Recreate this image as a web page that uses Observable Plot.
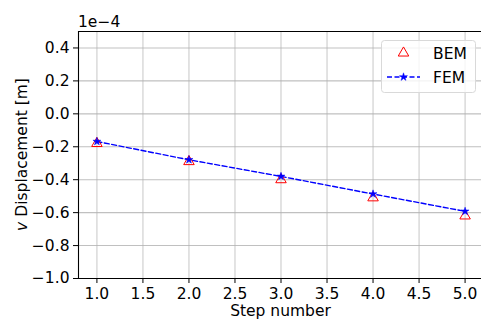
<!DOCTYPE html>
<html>
<head>
<meta charset="utf-8">
<script src="https://cdn.jsdelivr.net/npm/d3@7"></script>
<script src="https://cdn.jsdelivr.net/npm/@observablehq/plot@0.6"></script>
<style>
  html, body { margin: 0; padding: 0; background: #fff; }
  svg { display: block; }
</style>
</head>
<body>
<div id="chart"></div>
<script>
// Data (displacement values in units of 1e-4 m)
const steps = [1, 2, 3, 4, 5];
const bemValues = [-0.18, -0.29, -0.40, -0.51, -0.62];
const femValues = [-0.168, -0.279, -0.38, -0.487, -0.592];
const xTicks = [1.0, 1.5, 2.0, 2.5, 3.0, 3.5, 4.0, 4.5, 5.0];
const yTicks = [-1.0, -0.8, -0.6, -0.4, -0.2, 0.0, 0.2, 0.4];
const seriesNames = ["BEM", "FEM"];
const xLabel = "Step number";
const yLabel = "Displacement [m]";
const offsetLabel = "1e\u22124";

const bem = steps.map((s, i) => ({step: s, value: bemValues[i]}));
const fem = steps.map((s, i) => ({step: s, value: femValues[i]}));
const fmt = d => d.toFixed(1).replace("-", "\u2212");

const W = 481, H = 322;
const L = 78, T = 31, B = 278, R = 483;
const FS = 15.5;

const chart = Plot.plot({
  width: W,
  height: H,
  marginLeft: L,
  marginTop: T,
  marginBottom: H - B,
  marginRight: 0,
  style: {fontFamily: "DejaVu Sans", fontSize: FS + "px", background: "#fff", overflow: "hidden"},
  x: {domain: [0.8, 5.2], range: [L, R]},
  y: {domain: [-1.0, 0.5], range: [B, T]},
  marks: [
    Plot.gridX(xTicks, {stroke: "#b0b0b0", strokeOpacity: 0.6, strokeWidth: 1.2}),
    Plot.gridY(yTicks, {stroke: "#b0b0b0", strokeOpacity: 0.8, strokeWidth: 1.1}),
    Plot.axisX(xTicks, {tickFormat: fmt, tickSize: 5, tickPadding: 4, fontSize: FS, fill: "#000", stroke: "#000", label: null}),
    Plot.axisY(yTicks, {tickFormat: fmt, tickSize: 5, tickPadding: 4, fontSize: FS, fill: "#000", stroke: "#000", label: null}),
    Plot.ruleX([0.8, 5.2], {stroke: "#000", strokeWidth: 1.1}),
    Plot.ruleY([-1.0, 0.5], {stroke: "#000", strokeWidth: 1.1}),
    Plot.line(fem, {x: "step", y: "value", stroke: "#0000ff", strokeWidth: 1.4, strokeDasharray: "5,2.5"}),
    Plot.dot(bem, {x: "step", y: "value", symbol: "triangle", r: 3.9, stroke: "#ff0000", strokeWidth: 1, fill: "none"}),
    Plot.dot(fem, {x: "step", y: "value", symbol: "star", r: 2.5, fill: "#0000ff", stroke: "#0000ff", strokeWidth: 0.5})
  ]
});

document.getElementById("chart").appendChild(chart);

const svg = d3.select(chart);
const font = "DejaVu Sans";
const txt = (x, y, s, anchor) => svg.append("text").attr("x", x).attr("y", y)
  .attr("text-anchor", anchor).attr("font-family", font).attr("font-size", FS)
  .attr("fill", "#000").text(s);

// offset text
txt(L, 27, offsetLabel, "start");
// x label
txt((L + R) / 2, 316, xLabel, "middle");

// y label
const yl = svg.append("text").attr("transform", `translate(27,${(T + B) / 2}) rotate(-90)`)
  .attr("text-anchor", "middle").attr("font-family", font).attr("font-size", FS).attr("fill", "#000");
yl.append("tspan").attr("font-style", "italic").text("v");
yl.append("tspan").text(" " + yLabel);

// legend
const lg = svg.append("g");
lg.append("rect").attr("x", 381.5).attr("y", 40.5).attr("width", 94).attr("height", 52).attr("rx", 3)
  .attr("fill", "#fff").attr("fill-opacity", 0.8).attr("stroke", "#d9d9d9").attr("stroke-width", 1);
const tri = d3.symbol(d3.symbolTriangle, Math.PI * 3.9 * 3.9)();
lg.append("path").attr("d", tri).attr("transform", "translate(403.5,53)")
  .attr("fill", "none").attr("stroke", "#ff0000").attr("stroke-width", 1);
lg.append("text").attr("x", 433).attr("y", 59).attr("text-anchor", "start").attr("font-family", font)
  .attr("font-size", FS).attr("fill", "#000").text(seriesNames[0]);
lg.append("line").attr("x1", 387).attr("x2", 420).attr("y1", 77).attr("y2", 77)
  .attr("stroke", "#0000ff").attr("stroke-width", 1.4).attr("stroke-dasharray", "5,2.5");
const star = d3.symbol(d3.symbolStar, Math.PI * 2.5 * 2.5)();
lg.append("path").attr("d", star).attr("transform", "translate(403.5,77)")
  .attr("fill", "#0000ff").attr("stroke", "#0000ff").attr("stroke-width", 0.5);
lg.append("text").attr("x", 433).attr("y", 83).attr("text-anchor", "start").attr("font-family", font)
  .attr("font-size", FS).attr("fill", "#000").text(seriesNames[1]);
</script>
</body>
</html>
